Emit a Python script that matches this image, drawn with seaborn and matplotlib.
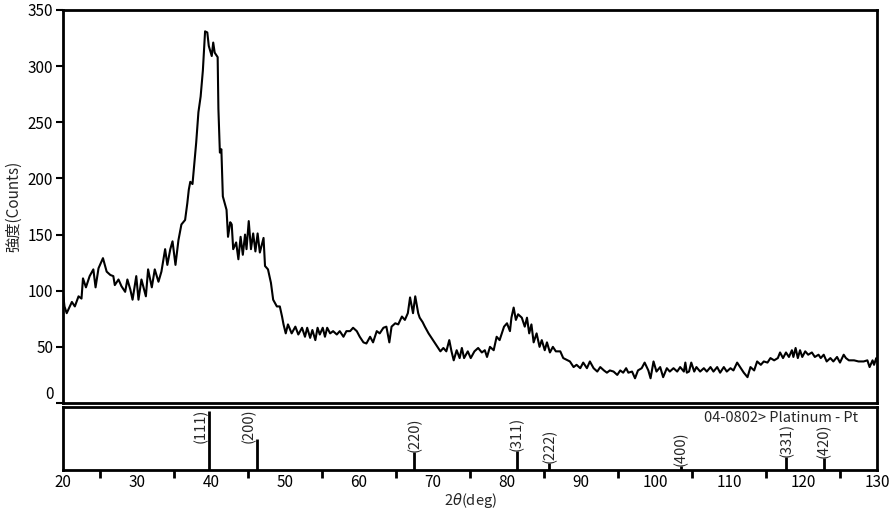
import matplotlib
matplotlib.use("Agg")
import matplotlib.pyplot as plt
import seaborn as sns
import pandas as pd
from matplotlib.ticker import MultipleLocator

# ---- data ----
two_theta = [
    20.0, 20.2, 20.5, 21.2, 21.6, 22.1, 22.5, 22.7, 23.1, 23.6, 24.1, 24.4, 24.8, 25.4, 25.9, 26.4, 26.8, 27.0, 27.5, 27.9,
    28.4, 28.7, 29.1, 29.4, 29.9, 30.2, 30.6, 31.2, 31.5, 32.0, 32.4, 32.9, 33.3, 33.8, 34.1, 34.5, 34.8, 35.2, 35.6, 36.0,
    36.5, 36.8,
    37.0, 37.2, 37.5, 38.0, 38.3, 38.6, 38.9, 39.2, 39.5, 39.7, 40.1, 40.3, 40.5, 40.9, 41.0, 41.2, 41.4, 41.6,
    42.1, 42.3, 42.6, 42.8, 43.0, 43.4, 43.7, 44.0, 44.3, 44.6, 44.8, 45.1, 45.4, 45.7, 46.0, 46.3, 46.6, 47.1, 47.3, 47.7,
    48.1, 48.4, 48.9, 49.3, 49.6, 49.8, 50.1, 50.4, 50.9, 51.4, 51.8,
    52.3, 52.7, 53.0, 53.4, 53.7, 54.1, 54.4, 54.7, 55.1, 55.4, 55.7, 56.1, 56.5, 57.0, 57.4, 57.9, 58.3, 58.8, 59.2, 59.7,
    60.1, 60.6, 61.0, 61.5, 61.9, 62.4, 62.8, 63.3, 63.7, 64.1, 64.4, 64.9, 65.3, 65.8, 66.2, 66.6, 66.9, 67.3, 67.6, 68.0,
    68.2, 68.6, 68.9, 69.4, 69.8, 70.3, 70.7, 71.0, 71.4, 71.8, 72.2, 72.5, 72.8, 73.2, 73.6, 73.9, 74.2, 74.7, 75.1, 75.6,
    76.1,
    76.6, 77.0, 77.3, 77.7, 78.2, 78.6, 79.0, 79.3, 79.6, 80.0, 80.4, 80.6, 80.9, 81.2, 81.5, 82.0, 82.4, 82.7, 83.0, 83.3,
    83.6, 84.0, 84.4, 84.7, 85.1, 85.4, 85.8, 86.2, 86.6, 87.2, 87.6, 88.2, 88.5, 89.0, 89.4, 89.9, 90.3, 90.8, 91.2, 91.7,
    92.2, 92.6, 93.1, 93.5, 93.9, 94.4, 94.9, 95.3, 95.7, 96.1, 96.4, 96.9, 97.3, 97.7, 98.2, 98.6, 99.1, 99.4, 99.8, 100.2,
    100.7, 101.1, 101.6,
    102.0, 102.5, 103.0, 103.4, 103.9, 104.1, 104.3, 104.6, 104.9, 105.3, 105.6, 106.1, 106.6, 107.0, 107.5, 107.9, 108.4,
    108.8, 109.3, 109.7, 110.2, 110.6, 111.1, 111.5, 112.0, 112.5, 112.9, 113.4, 113.8, 114.3, 114.7, 115.2, 115.6, 116.1,
    116.6, 116.9, 117.3, 117.7, 118.1, 118.5, 118.7, 119.0, 119.3, 119.6, 119.9, 120.3, 120.7, 121.2, 121.6, 122.1, 122.4,
    122.8, 123.2, 123.7, 124.1, 124.6, 125.0, 125.5, 125.8, 126.2, 126.9, 127.5, 128.2, 128.7, 129.0, 129.4, 129.6, 129.9,
    130.0,
]
counts = [
    98, 86, 80, 90, 86, 95, 93, 111, 103, 113, 119, 103, 120, 129, 117, 114, 113, 105, 110, 104,
    99, 110, 101, 92, 113, 92, 110, 95, 119, 103, 119, 108, 117, 137, 123, 137, 144, 123, 145, 159,
    163, 178,
    190, 197, 195, 232, 259, 273, 296, 331, 330, 318, 309, 321, 312, 308, 262, 223, 226, 184,
    172, 148, 161, 159, 137, 143, 128, 148, 132, 150, 137, 162, 137, 151, 135, 151, 134, 147, 122, 119,
    107, 92, 86, 86, 77, 70, 62, 70, 62, 68, 61,
    67, 59, 67, 58, 65, 56, 67, 61, 67, 59, 67, 62, 64, 61, 64, 59, 64, 64, 67, 64,
    59, 54, 53, 59, 54, 64, 62, 67, 68, 54, 68, 71, 70, 77, 74, 80, 94, 80, 95, 80,
    76, 72, 68, 62, 58, 53, 49, 46, 49, 46, 56, 46, 38, 47, 40, 49, 40, 46, 40, 46,
    49,
    45, 47, 41, 50, 47, 59, 56, 62, 68, 71, 64, 76, 85, 74, 79, 76, 68, 76, 62, 70,
    54, 62, 50, 56, 47, 54, 45, 50, 46, 46, 40, 38, 37, 32, 34, 31, 36, 31, 37, 31,
    28, 32, 29, 27, 29, 28, 25, 29, 27, 31, 27, 28, 22, 29, 31, 36, 29, 22, 37, 28,
    32, 23, 31,
    28, 31, 28, 32, 28, 36, 27, 28, 36, 28, 32, 28, 31, 28, 32, 28, 32,
    27, 32, 28, 31, 29, 36, 32, 27, 23, 32, 29, 37, 34, 37, 36, 40, 38,
    40, 45, 40, 45, 41, 47, 41, 49, 40, 47, 41, 46, 43, 45, 41, 43, 40,
    43, 37, 40, 37, 41, 36, 43, 40, 38, 38, 37, 37, 38, 32, 38, 34, 40,
    37,
]

ref_hkl = ["(111)", "(200)", "(220)", "(311)", "(222)", "(400)", "(331)", "(420)"]
ref_pos = [39.76, 46.24, 67.45, 81.29, 85.71, 103.50, 117.71, 122.81]
ref_int = [100, 53, 31, 33, 12, 6, 22, 20]
ref_card = "04-0802> Platinum - Pt"

xticks_major = [20, 30, 40, 50, 60, 70, 80, 90, 100, 110, 120, 130]
yticks = [0, 50, 100, 150, 200, 250, 300, 350]

# ---- style ----
sns.set_style("white")
plt.rcParams["font.family"] = ["Noto Sans CJK JP", "DejaVu Sans"]
plt.rcParams["mathtext.fontset"] = "dejavusans"

fig = plt.figure(figsize=(8.93, 5.15), dpi=100)
ax = fig.add_axes([63 / 893, 1 - 403 / 515, 814 / 893, 393 / 515])
axb = fig.add_axes([63 / 893, 1 - 470 / 515, 814 / 893, 63 / 515])

df = pd.DataFrame({"two_theta": two_theta, "counts": counts})
sns.lineplot(data=df, x="two_theta", y="counts", ax=ax, color="black",
             linewidth=1.5, sort=False, estimator=None)

ax.set_xlim(20, 130)
ax.set_ylim(0, 350)
ax.set_yticks(yticks)
ax.set_xticks([])
ax.set_xlabel("")
ax.set_ylabel("強度(Counts)", fontsize=11, labelpad=4)
ax.tick_params(axis="y", direction="out", length=5, width=1.5, labelsize=11,
               pad=2, left=True, colors="black")
for s in ax.spines.values():
    s.set_linewidth(2)
    s.set_color("black")
for lab in ax.get_yticklabels():
    if lab.get_text() == "0":
        lab.set_va("bottom")

# ---- reference stick pattern ----
ylim_b = 107
axb.vlines(ref_pos, 0, ref_int, color="black", linewidth=2)
axb.set_xlim(20, 130)
axb.set_ylim(0, ylim_b)
label_h = 56
for hkl, p, h in zip(ref_hkl, ref_pos, ref_int):
    if h + label_h > ylim_b:
        axb.text(p - 0.2, ylim_b - 3, hkl, rotation=90, ha="right", va="top",
                 fontsize=10.5)
    else:
        axb.text(p, h, hkl, rotation=90, ha="center", va="bottom", fontsize=10.5)
axb.text(0.977, 0.93, ref_card, transform=axb.transAxes, ha="right", va="top",
         fontsize=10.5)

axb.set_xticks(xticks_major)
axb.xaxis.set_minor_locator(MultipleLocator(5))
axb.set_yticks([])
axb.tick_params(axis="x", which="major", direction="out", length=0,
                labelsize=11, pad=3, bottom=True, colors="black")
axb.tick_params(axis="x", which="minor", direction="out", length=6, width=2,
                bottom=True, colors="black")
axb.set_xlabel("2$\\theta$(deg)", fontsize=10.5, labelpad=0)
for s in axb.spines.values():
    s.set_linewidth(2)
    s.set_color("black")

fig.savefig("out.png", dpi=100)
